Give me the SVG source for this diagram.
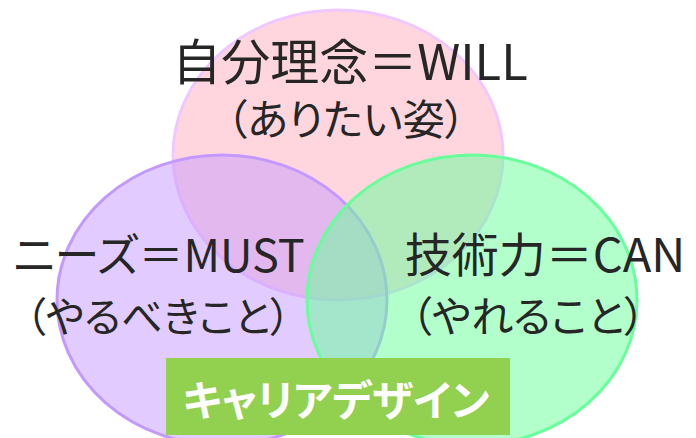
<svg xmlns="http://www.w3.org/2000/svg" width="696" height="438" viewBox="0 0 696 438">
<style>
.lbl{font-family:"Noto Sans CJK JP","Noto Sans",sans-serif;fill:#262626;text-anchor:middle;font-feature-settings:"palt";}
.ttl{font-family:"Noto Sans CJK JP","Noto Sans",sans-serif;fill:#FFFFFF;font-weight:bold;text-anchor:middle;font-feature-settings:"palt";}
</style>
<rect width="696" height="438" fill="#FFFFFF"/>
<g id="will">
<ellipse cx="338" cy="155" rx="165" ry="145" fill="#FF99AA" fill-opacity="0.4" stroke="#F0C8FF" stroke-width="3"/>
</g>
<g id="must">
<ellipse cx="222" cy="300" rx="165" ry="145" fill="#C599FF" fill-opacity="0.5" stroke="#C499FF" stroke-width="3"/>
</g>
<g id="can">
<ellipse cx="472" cy="300" rx="165" ry="145" fill="#66FF99" fill-opacity="0.5" stroke="#66FF99" stroke-width="3"/>
</g>
<g id="labels">
<text class="lbl" x="350" y="80" font-size="49">自分理念＝WILL</text>
<text class="lbl" x="346" y="135" font-size="42">（ありたい姿）</text>
<text class="lbl" x="159" y="272" font-size="45">ニーズ＝MUST</text>
<text class="lbl" x="158" y="332" font-size="41">（やるべきこと）</text>
<text class="lbl" x="545" y="272" font-size="47">技術力＝CAN</text>
<text class="lbl" x="528" y="332" font-size="42">（やれること）</text>
</g>
<g id="career-design">
<rect x="166" y="358" width="344" height="77" fill="#92D050"/>
<text class="ttl" x="336" y="416" font-size="42">キャリアデザイン</text>
</g>
<g id="connectors"></g>
</svg>
